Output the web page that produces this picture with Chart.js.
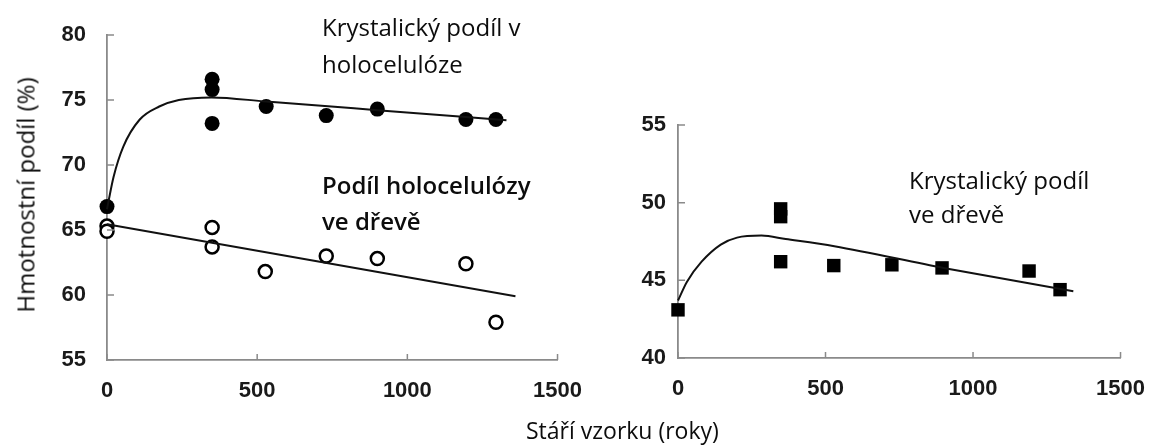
<!DOCTYPE html>
<html>
<head>
<meta charset="utf-8">
<script src="https://cdn.jsdelivr.net/npm/chart.js@4/dist/chart.umd.min.js"></script>
<style>
  html, body { margin: 0; padding: 0; background: #fff; }
  #wrap { position: relative; width: 1163px; height: 445px; overflow: hidden; }
  canvas { position: absolute; top: 0; }
  .note { position: absolute; font-family: "Open Sans", Lato, sans-serif; font-size: 24px; line-height: 37px; color: #0c0c0c; white-space: nowrap; }
  .bold { font-weight: 600; }
  #ytitle { position: absolute; left: 25px; top: 195px; transform: translate(-50%, -50%) rotate(-90deg);
            font-family: "Open Sans", Lato, sans-serif; font-size: 24px; color: #0c0c0c; white-space: nowrap; }
</style>
</head>
<body>
<div id="wrap">
  <canvas id="left" width="600" height="445" style="left:0;width:600px;height:445px"></canvas>
  <canvas id="right" width="563" height="445" style="left:600px;width:563px;height:445px"></canvas>
  <div class="note" style="left:322px;top:8px">Krystalický podíl v<br>holocelulóze</div>
  <div class="note bold" style="left:322px;top:167px;line-height:36px">Podíl holocelulózy<br>ve dřevě</div>
  <div class="note" style="left:909px;top:163px;line-height:34px">Krystalický podíl<br>ve dřevě</div>
  <div class="note" style="left:526px;top:413px;font-size:23px;line-height:34px">Stáří vzorku (roky)</div>
  <div id="ytitle">Hmotnostní podíl (%)</div>
</div>
<script>
// crystalline share in holocellulose (filled circles)
const ageHoloCryst = [0, 350, 350, 350, 530, 730, 900, 1195, 1295];
const holoCryst = [66.8, 76.6, 75.8, 73.2, 74.5, 73.8, 74.3, 73.5, 73.5];
const fitHoloCrystX = [0, 5, 22, 54, 109, 174, 239, 348, 530, 900, 1330];
const fitHoloCrystY = [66.6, 67.2, 69.1, 71.4, 73.5, 74.5, 75.0, 75.2, 74.88, 74.22, 73.45];

// holocellulose share in wood (open circles)
const ageHoloShare = [0, 0, 350, 350, 527, 730, 900, 1195, 1295];
const holoShare = [65.3, 64.9, 65.2, 63.7, 61.8, 63.0, 62.8, 62.4, 57.9];
const fitHoloShareX = [0, 1360];
const fitHoloShareY = [65.45, 59.9];

// crystalline share in wood (squares)
const ageWoodCryst = [0, 348, 348, 348, 528, 725, 895, 1190, 1295];
const woodCryst = [43.1, 49.6, 49.1, 46.2, 45.95, 46.0, 45.8, 45.6, 44.4];
const fitWoodCrystX = [0, 30, 80, 145, 200, 283, 365, 530, 900, 1340];
const fitWoodCrystY = [43.7, 44.9, 46.2, 47.3, 47.75, 47.88, 47.66, 47.19, 45.8, 44.3];

const xTicks = [0, 500, 1000, 1500];
const leftYTicks = [55, 60, 65, 70, 75, 80];
const rightYTicks = [40, 45, 50, 55];

const pts = (xs, ys) => xs.map((x, i) => ({x: x, y: ys[i]}));

const axisGrey = '#8a8a8a';
const tickFont = {family: "'Liberation Sans', Arial, sans-serif", weight: 'bold', size: 22};

// small tick marks drawn inward from the axis lines
const innerTicks = {
  id: 'innerTicks',
  afterDraw(chart) {
    const ctx = chart.ctx, xs = chart.scales.x, ys = chart.scales.y;
    ctx.save();
    ctx.strokeStyle = axisGrey;
    ctx.lineWidth = 1.5;
    ctx.beginPath();
    xs.ticks.forEach(t => {
      const px = xs.getPixelForValue(t.value);
      ctx.moveTo(px, ys.bottom);
      ctx.lineTo(px, ys.bottom - 6);
    });
    ys.ticks.forEach(t => {
      const py = ys.getPixelForValue(t.value);
      ctx.moveTo(xs.left, py);
      ctx.lineTo(xs.left + 7, py);
    });
    ctx.stroke();
    ctx.restore();
  }
};

function makeChart(id, datasets, yMin, yMax, yTickList, pad, yWidth, xHeight, yPad) {
  return new Chart(document.getElementById(id), {
    type: 'scatter',
    data: {datasets: datasets},
    plugins: [innerTicks],
    options: {
      responsive: false,
      animation: false,
      layout: {padding: pad},
      plugins: {legend: {display: false}, tooltip: {enabled: false}},
      scales: {
        x: {
          type: 'linear', min: 0, max: 1500,
          afterBuildTicks: s => { s.ticks = xTicks.map(v => ({value: v})); },
          afterFit: s => { s.height = xHeight; },
          grid: {display: true, drawOnChartArea: false, drawTicks: false},
          border: {display: true, color: axisGrey, width: 1.8},
          ticks: {font: tickFont, color: '#1a1a1a', padding: 18, maxRotation: 0, callback: v => String(v)}
        },
        y: {
          type: 'linear', min: yMin, max: yMax,
          afterBuildTicks: s => { s.ticks = yTickList.map(v => ({value: v})); },
          afterFit: s => { s.width = yWidth; },
          grid: {display: true, drawOnChartArea: false, drawTicks: false},
          border: {display: true, color: axisGrey, width: 1.8},
          ticks: {font: tickFont, color: '#1a1a1a', padding: yPad, callback: v => String(v)}
        }
      }
    }
  });
}

const lineStyle = {showLine: true, borderColor: '#111', borderWidth: 2, pointRadius: 0,
                   cubicInterpolationMode: 'monotone', fill: false, clip: false};

makeChart('left', [
  Object.assign({data: pts(fitHoloCrystX, fitHoloCrystY)}, lineStyle),
  Object.assign({data: pts(fitHoloShareX, fitHoloShareY)}, lineStyle),
  {data: pts(ageHoloCryst, holoCryst), pointStyle: 'circle', pointRadius: 7.5, clip: false,
   backgroundColor: '#000', borderColor: '#000', borderWidth: 0},
  {data: pts(ageHoloShare, holoShare), pointStyle: 'circle', pointRadius: 6.5, clip: false,
   backgroundColor: '#fff', borderColor: '#000', borderWidth: 2.5}
], 55, 80, leftYTicks, {left: 0, top: 35, right: 37, bottom: 0}, 107, 85, 21);

makeChart('right', [
  Object.assign({data: pts(fitWoodCrystX, fitWoodCrystY)}, lineStyle),
  {data: pts(ageWoodCryst, woodCryst), pointStyle: 'rect', pointRadius: 9.5, clip: false,
   backgroundColor: '#000', borderColor: '#000', borderWidth: 0}
], 40, 55, rightYTicks, {left: 0, top: 125, right: 25, bottom: 0}, 78, 87, 12);
</script>
</body>
</html>
